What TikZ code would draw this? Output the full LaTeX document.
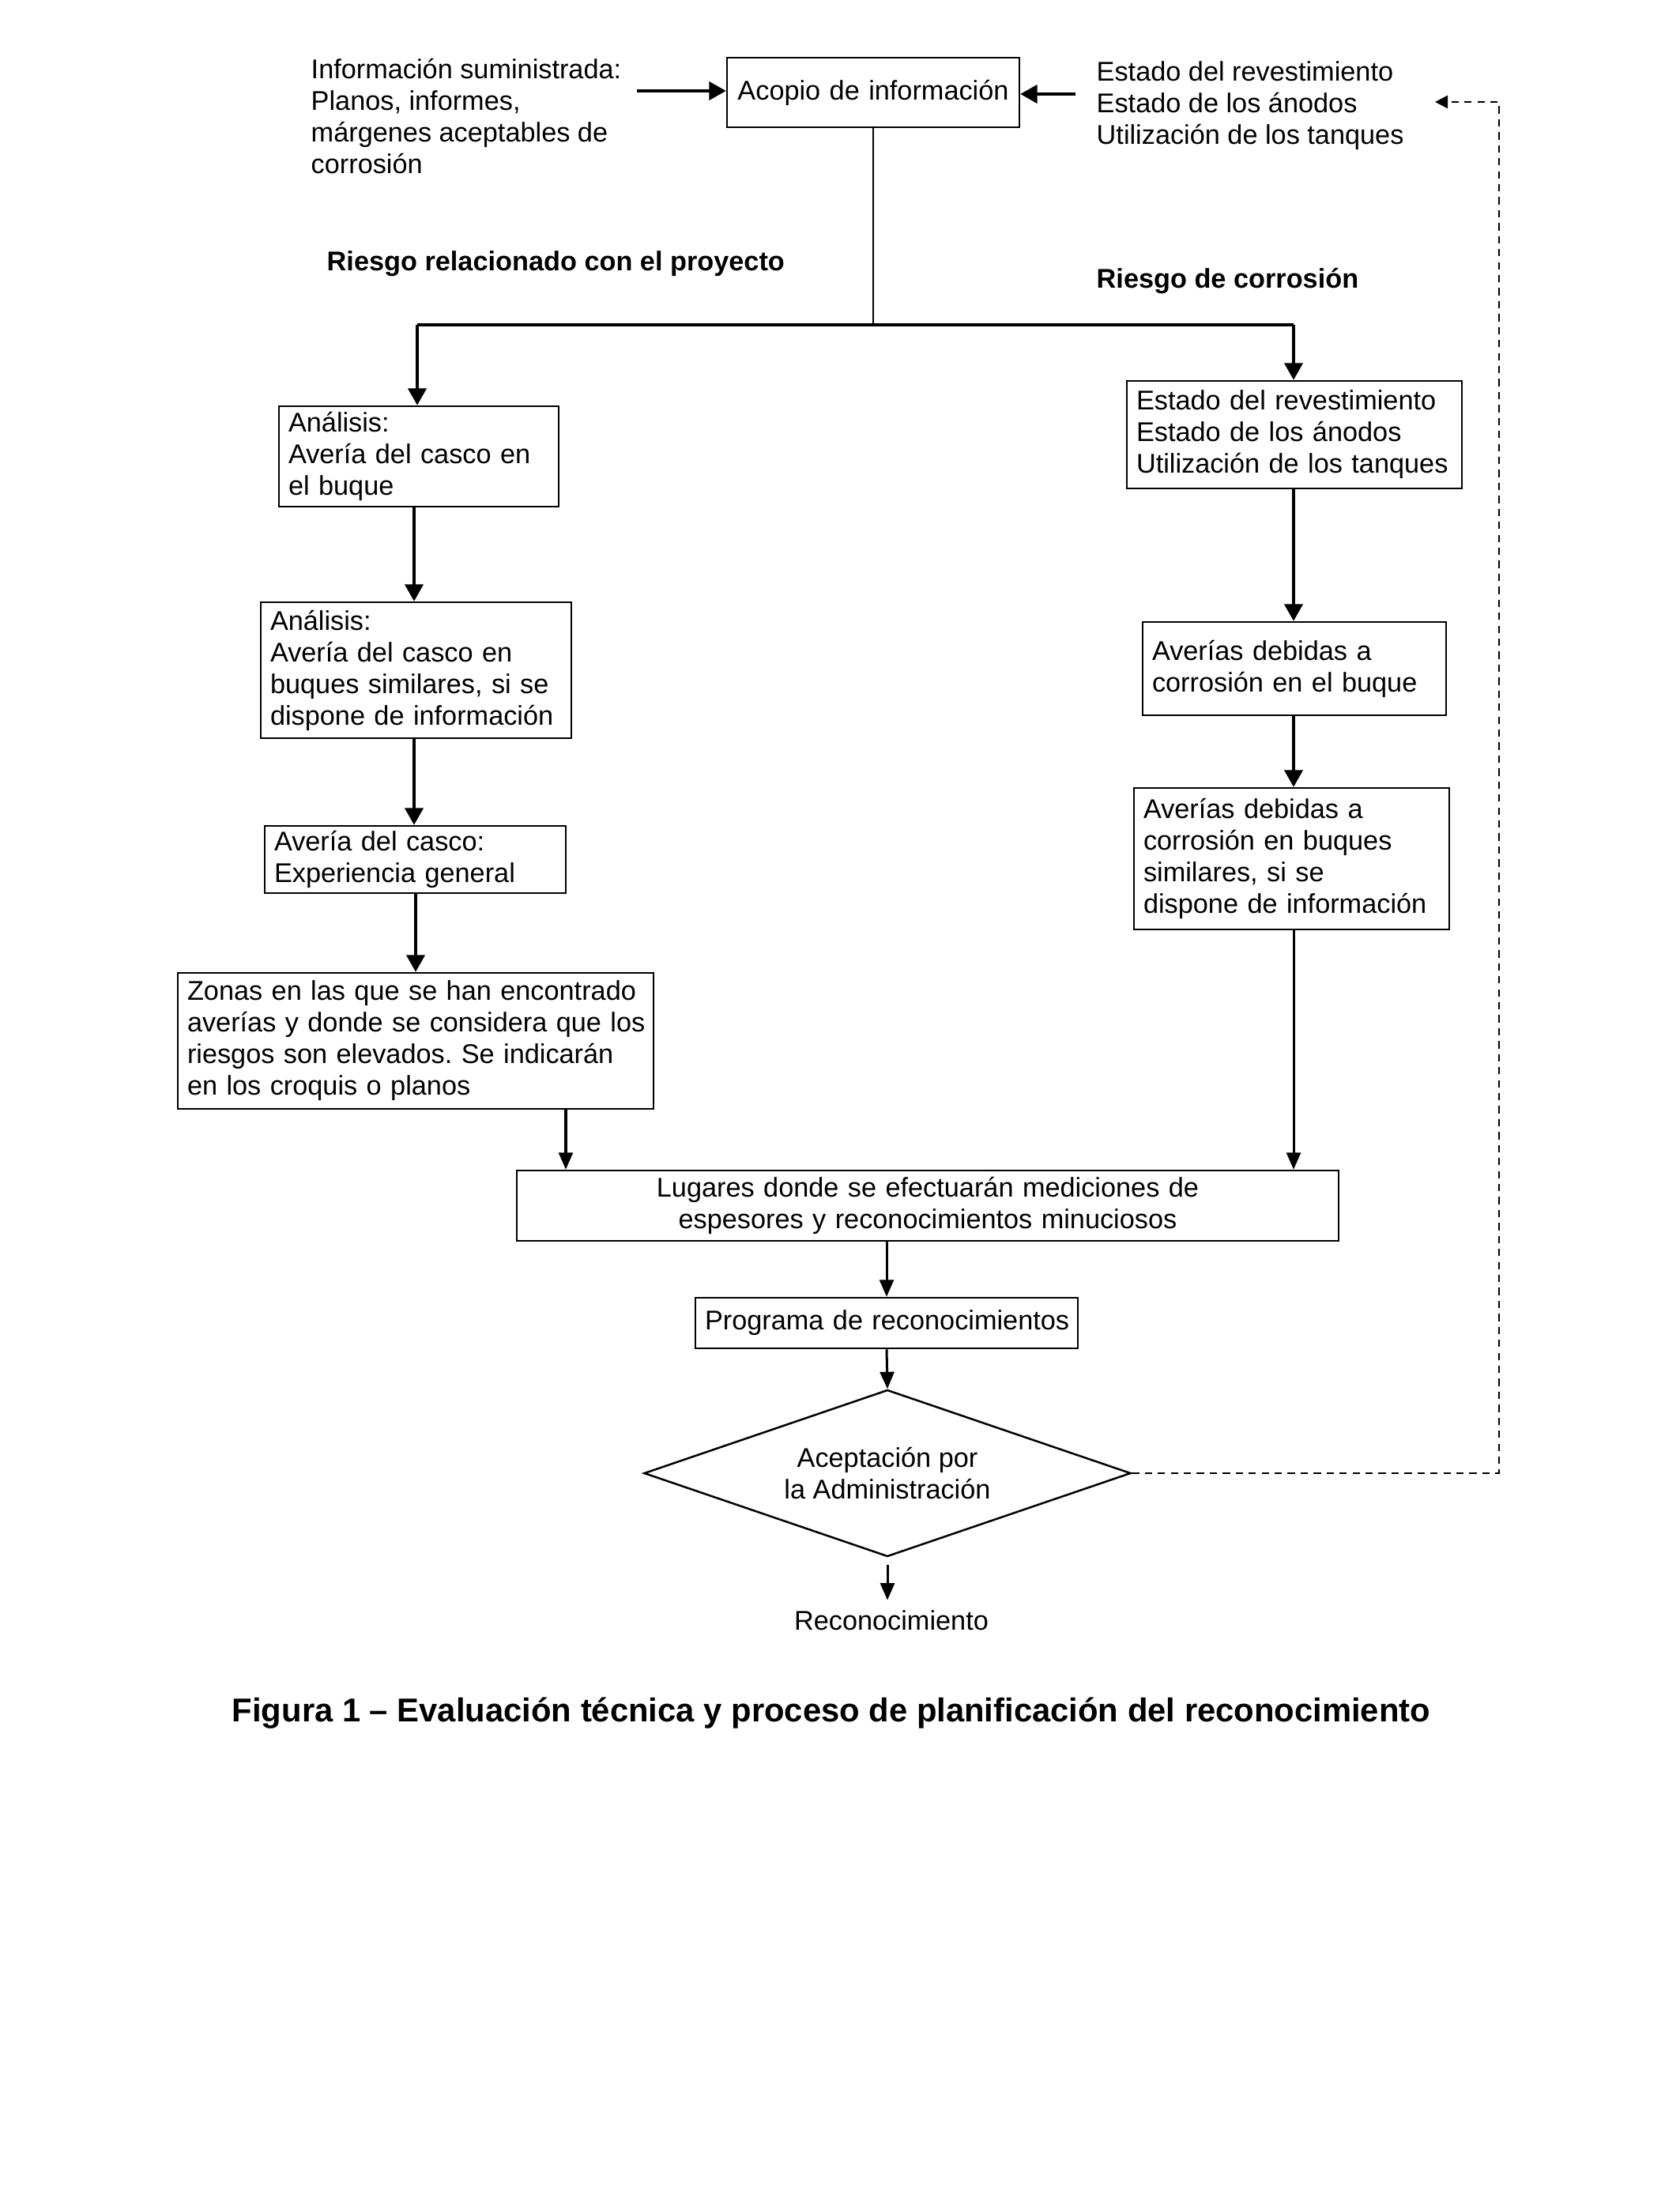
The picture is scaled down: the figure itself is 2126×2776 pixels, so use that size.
\documentclass[tikz,border=0pt]{standalone}
\usepackage{fontspec}
\setmainfont{Liberation Sans}
\usetikzlibrary{arrows.meta,shapes.geometric,calc}
\frenchspacing
\begin{document}
\begin{tikzpicture}[x=0.28pt,y=-0.28pt,
  font=\fontsize{9.6}{11.2}\selectfont,
  box/.style={draw, line width=0.7pt, inner xsep=3.36pt, inner ysep=0pt, align=left},
  cbox/.style={draw, line width=0.7pt, inner xsep=3.36pt, inner ysep=0pt, align=center},
  txt/.style={inner sep=0pt, align=left},
  arrbig/.style={line width=1pt, -{Triangle[length=6pt,width=6.5pt]}},
  arrsm/.style={line width=0.85pt, -{Triangle[length=6pt,width=5pt]}},
  dsh/.style={line width=0.75pt, dash pattern=on 2.6pt off 2pt, -{Triangle[length=4.5pt,width=4.5pt]}}]
\useasboundingbox[fill=white] (0,0) rectangle (2126,2776);

% top row
\node[cbox, text width=96.88pt, minimum height=24.64pt] (acopio) at (1105,117) {\mbox{Acopio de información}};
\node[txt, anchor=north west] (info) at (393,74) {Información suministrada:\\Planos, informes,\\márgenes aceptables de\\corrosión};
\node[txt, anchor=north west] (rev) at (1387,77) {Estado del revestimiento\\Estado de los ánodos\\Utilización de los tanques};
\coordinate (infoA) at (806,115);
\coordinate (revA) at (1361,119);
\draw[arrbig] (infoA) -- (infoA -| acopio.west);
\draw[arrbig] (revA) -- (revA -| acopio.east);

\node[txt, font=\fontsize{9.6}{11.2}\selectfont\bfseries, anchor=base west] (rl) at (413,343) {Riesgo relacionado con el proyecto};
\node[txt, font=\fontsize{9.6}{11.2}\selectfont\bfseries, anchor=base west] (rc) at (1387,365) {Riesgo de corrosión};

% split
\coordinate (jL) at (528,411);
\coordinate (jR) at (1637,411);
\draw[line width=0.5pt] (acopio.south) -- (acopio.south |- jL);
\draw[line width=1pt] (jL) -- (jR);

% left column
\node[box, text width=92.4pt, minimum height=35.56pt] (A1) at (530,577.5) {\mbox{Análisis:}\\\mbox{Avería del casco en}\\\mbox{el buque}};
\node[box, text width=103.32pt, minimum height=48.16pt] (A2) at (526.5,848) {\mbox{Análisis:}\\\mbox{Avería del casco en}\\\mbox{buques similares, si se}\\\mbox{dispone de información}};
\node[box, text width=99.96pt, minimum height=23.8pt] (A3) at (525.5,1087.5) {\mbox{Avería del casco:}\\\mbox{Experiencia general}};
\node[box, text width=161.84pt, minimum height=48.16pt] (A4) at (526,1317) {\mbox{Zonas en las que se han encontrado}\\\mbox{averías y donde se considera que los}\\\mbox{riesgos son elevados. Se indicarán}\\\mbox{en los croquis o planos}};

% right column
\node[box, text width=112pt, minimum height=38.08pt] (B1) at (1638,550) {\mbox{Estado del revestimiento}\\\mbox{Estado de los ánodos}\\\mbox{Utilización de los tanques}};
\node[box, text width=100.8pt, minimum height=33.04pt] (B2) at (1638,846) {\mbox{Averías debidas a}\\\mbox{corrosión en el buque}};
\node[box, text width=105pt, minimum height=50.12pt] (B3) at (1634.5,1086.5) {\mbox{Averías debidas a}\\\mbox{corrosión en buques}\\\mbox{similares, si se}\\\mbox{dispone de información}};

% lower part
\node[cbox, text width=284.48pt, minimum height=24.92pt] (L) at (1174,1525.5) {\mbox{Lugares donde se efectuarán mediciones de}\\\mbox{espesores y reconocimientos minuciosos}};
\node[cbox, text width=128.8pt, minimum height=17.92pt] (P) at (1122,1674) {\mbox{Programa de reconocimientos}};
\node[diamond, draw, line width=0.7pt, aspect=2.92, inner sep=0pt, minimum width=172.5pt, minimum height=59.08pt, align=center] (D) at (1123,1864) {Aceptación por\\la Administración};
\node[anchor=base] (reco) at (1128,2062) {Reconocimiento};

\node[inner sep=0pt, font=\fontsize{11.7}{13}\selectfont\bfseries, anchor=base] (cap) at (1052,2178) {Figura 1 – Evaluación técnica y proceso de planificación del reconocimiento};

% connectors
\draw[arrbig] (jL) -- (jL |- A1.north);
\draw[arrbig] (jR) -- (jR |- B1.north);
\draw[arrbig] (A1.south -| 524,0) -- (A2.north -| 524,0);
\draw[arrbig] (A2.south -| 524,0) -- (A3.north -| 524,0);
\draw[arrbig] (A3.south -| 526,0) -- (A4.north -| 526,0);
\draw[arrbig] (B1.south -| 1637,0) -- (B2.north -| 1637,0);
\draw[arrbig] (B2.south -| 1637,0) -- (B3.north -| 1637,0);
\draw[arrsm] (A4.south -| 716,0) -- (L.north -| 716,0);
\draw[arrsm] (B3.south -| 1637,0) -- (L.north -| 1637,0);
\draw[arrsm] (L.south -| P.north) -- (P.north);
\draw[arrsm] (P.south) -- (D.north);
\draw[arrsm] ([yshift=-2.5pt]D.south) -- (D.south |- reco.north);

\coordinate (fb) at (1816,129);
\coordinate (fbcorner) at (1897,129);
\draw[dsh] (D.east) -| (fbcorner) -- (fb);
\end{tikzpicture}
\end{document}
